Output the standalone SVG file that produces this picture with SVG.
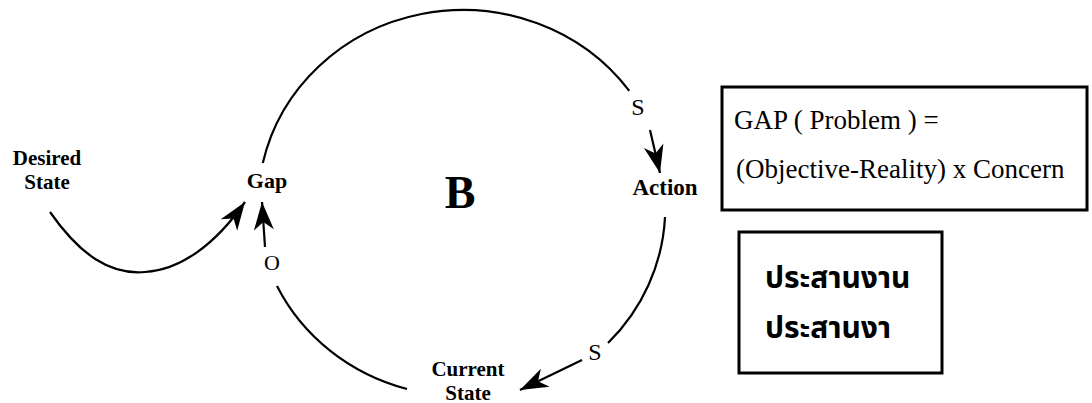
<svg xmlns="http://www.w3.org/2000/svg" width="1092" height="403" viewBox="0 0 1092 403">
  <style>
    .lbl { font-family: "Liberation Serif", "Times New Roman", serif; font-weight: bold; font-size: 21px; fill: #000; text-anchor: middle; }
    .pol { font-family: "Liberation Serif", "Times New Roman", serif; font-size: 24px; fill: #000; text-anchor: middle; }
    .eq { font-family: "Liberation Serif", "Times New Roman", serif; font-size: 27px; fill: #000; }
    .thai { font-family: "Noto Sans Thai", "Noto Sans", "DejaVu Sans", sans-serif; font-weight: bold; font-size: 30px; fill: #000; }
    .edge { fill: none; stroke: #000; stroke-width: 2.2; }
    .box { fill: #fff; stroke: #000; stroke-width: 3; }
  </style>
  <defs>
    <marker id="head" markerUnits="userSpaceOnUse" markerWidth="34" markerHeight="26" viewBox="-30 -13 34 26" refX="0" refY="0" orient="auto">
      <path d="M0,0 L-28,-10 L-20,0 L-28,10 Z" fill="#000"/>
    </marker>
  </defs>
  <rect width="1092" height="403" fill="#fff"/>

  <g id="connectors">
    <!-- balancing loop arcs -->
    <path class="edge" d="M262.8,163.1 A205,195 0 0 1 629.3,90.9"/>
    <path class="edge" d="M665,217 A205,195 0 0 1 608,343"/>
    <path class="edge" d="M407,389 A205,195 0 0 1 277,286"/>
    <!-- link arrows -->
    <path class="edge" d="M650,130 L660,173" marker-end="url(#head)"/>
    <path class="edge" d="M582,360 L520,390" marker-end="url(#head)"/>
    <path class="edge" d="M265,247 L262,202" marker-end="url(#head)"/>
    <path class="edge" d="M50,212 C80,255 110,275 145,272 C180,270 215,245 245,202" marker-end="url(#head)"/>
    <!-- polarity labels -->
    <text class="pol" x="638" y="115">S</text>
    <text class="pol" x="595" y="360">S</text>
    <text class="pol" x="272" y="270" style="font-size:22px">O</text>
  </g>

  <g id="desired-state">
    <text class="lbl" x="47" y="165">Desired</text>
    <text class="lbl" x="47" y="189">State</text>
  </g>
  <g id="gap">
    <text class="lbl" x="267" y="188" style="font-size:22px">Gap</text>
  </g>
  <g id="action">
    <text class="lbl" x="665" y="195" style="font-size:23px">Action</text>
  </g>
  <g id="current-state">
    <text class="lbl" x="468" y="376">Current</text>
    <text class="lbl" x="468" y="400">State</text>
  </g>
  <g id="loop-type">
    <text class="lbl" x="460" y="208" style="font-size:46px">B</text>
  </g>

  <g id="gap-formula">
    <rect class="box" x="722" y="87" width="365" height="123"/>
    <text class="eq" x="734" y="129">GAP ( Problem ) =</text>
    <text class="eq" x="736" y="178">(Objective-Reality) x Concern</text>
  </g>
  <g id="thai-note">
    <rect class="box" x="739" y="232" width="203" height="141"/>
    <text class="thai" x="765" y="288">ประสานงาน</text>
    <text class="thai" x="765" y="338">ประสานงา</text>
  </g>
</svg>
